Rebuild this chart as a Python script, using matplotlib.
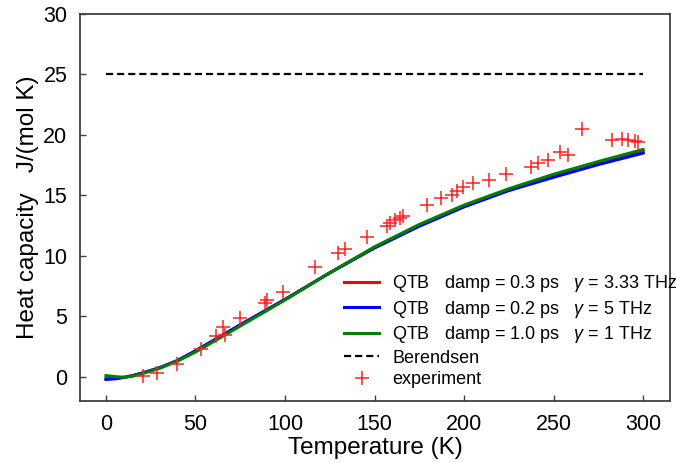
import matplotlib
matplotlib.use("Agg")
import matplotlib.pyplot as plt

plt.rcParams['font.family'] = ['Liberation Sans', 'DejaVu Sans']
plt.rcParams['mathtext.fontset'] = 'custom'
plt.rcParams['mathtext.it'] = 'Liberation Sans:italic'
plt.rcParams['mathtext.rm'] = 'Liberation Sans'

# QTB simulation curves
T_sim = [0, 5, 10, 15, 20, 30, 40, 50, 60, 75, 100, 125, 150, 175, 200, 225, 250, 275, 300]
cv_qtb_03 = [-0.15, -0.12, -0.03, 0.1, 0.3, 0.75, 1.35, 2.15, 3.0, 4.3, 6.4, 8.6, 10.7, 12.5, 14.1, 15.45, 16.6, 17.65, 18.6]
cv_qtb_02 = [-0.22, -0.17, -0.06, 0.1, 0.3, 0.75, 1.35, 2.15, 3.0, 4.3, 6.4, 8.6, 10.65, 12.45, 14.05, 15.4, 16.5, 17.55, 18.5]
cv_qtb_10 = [0.1, 0.02, -0.04, 0.05, 0.25, 0.7, 1.3, 2.05, 2.9, 4.2, 6.35, 8.6, 10.75, 12.6, 14.2, 15.55, 16.75, 17.8, 18.8]

# Berendsen (classical)
T_ber = [0, 300]
cv_ber = [25, 25]

# Experiment
T_exp = [20.5, 28.3, 39.8, 52.9, 61.5, 65.2, 66.5, 74.9, 88.6, 89.8, 99.1, 116.8,
         129.8, 133.5, 145.6, 156.8, 158.7, 161.5, 164.2, 166.1, 179.5, 187.0, 193.1,
         195.9, 199.3, 205.2, 214.0, 223.3, 237.3, 241.5, 247.1, 253.3, 258.3, 266.1,
         282.5, 288.1, 291.8, 295.5, 297.4]
cv_exp = [0.05, 0.35, 1.05, 2.27, 3.37, 4.09, 3.45, 4.84, 6.08, 6.36, 7.05, 9.07,
          10.24, 10.56, 11.6, 12.5, 12.7, 13.0, 13.1, 13.3, 14.2, 14.8, 15.06,
          15.4, 15.7, 16.0, 16.3, 16.8, 17.35, 17.7, 17.95, 18.55, 18.35, 20.5,
          19.6, 19.7, 19.6, 19.5, 19.45]

labels = ["QTB   damp = 0.3 ps   $\\gamma$ = 3.33 THz",
          "QTB   damp = 0.2 ps   $\\gamma$ = 5 THz",
          "QTB   damp = 1.0 ps   $\\gamma$ = 1 THz",
          "Berendsen",
          "experiment"]

fig = plt.figure(figsize=(6.76, 4.63), dpi=100)
ax = fig.add_axes([80/676, 1 - 401/463, 590/676, 387/463])

l1, = ax.plot(T_sim, cv_qtb_03, color='#ff0000', lw=2.2, label=labels[0])
l2, = ax.plot(T_sim, cv_qtb_02, color='#0000ff', lw=2.2, label=labels[1])
l3, = ax.plot(T_sim, cv_qtb_10, color='#008000', lw=2.2, label=labels[2])
l4, = ax.plot(T_ber, cv_ber, color='black', lw=1.6, dashes=(3.2, 1.8), label=labels[3])
l5, = ax.plot(T_exp, cv_exp, linestyle='none', marker='+', color='#ff2020',
              markersize=10, mew=1.1, label=labels[4])

ax.set_xlim(-14.5, 315)
ax.set_ylim(-2, 30)
ax.set_xticks([0, 50, 100, 150, 200, 250, 300])
ax.set_yticks([0, 5, 10, 15, 20, 25, 30])
ax.tick_params(axis='both', direction='in', length=4, width=1, color='#404040',
               labelsize=15.5, top=False, right=False)
ax.tick_params(axis='x', pad=9)
ax.tick_params(axis='y', pad=9)
for s in ax.spines.values():
    s.set_color('#404040')
    s.set_linewidth(1.3)

ax.set_xlabel("Temperature (K)", fontsize=17.5, labelpad=2)
ax.set_ylabel("Heat capacity   J/(mol K)", fontsize=17.5, labelpad=3)

leg = ax.legend(handles=[l1, l2, l3, l4, l5], loc='upper left',
                bbox_to_anchor=((344 - 80) / 590, (401 - 273) / 387),
                frameon=False, fontsize=13, borderpad=0, borderaxespad=0,
                handlelength=1.94, handletextpad=0.72, labelspacing=0.25,
                numpoints=1)

fig.savefig("out.png", dpi=100)
